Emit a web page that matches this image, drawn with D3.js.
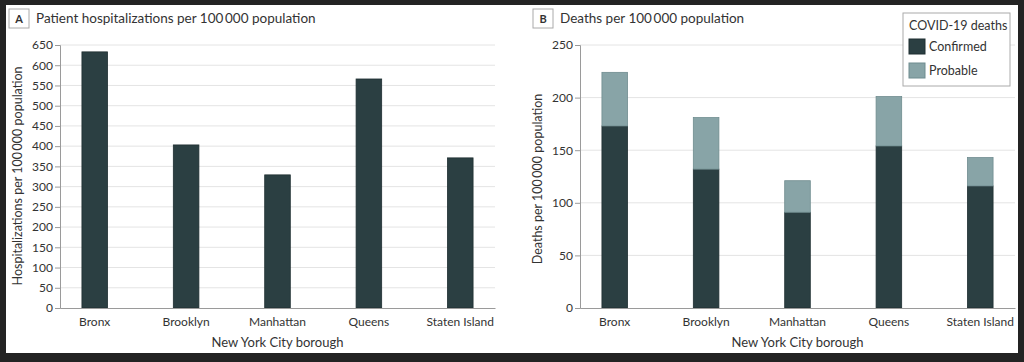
<!DOCTYPE html>
<html><head><meta charset="utf-8">
<script src="https://cdn.jsdelivr.net/npm/d3@7"></script>
<style>
html,body{margin:0;padding:0;background:#232323;}
svg{display:block;}
text{font-family:Lato,"Open Sans",sans-serif;fill:#333;}
</style></head><body>
<svg id="c" width="1024" height="362"></svg>
<script>
const boroughs = ["Bronx","Brooklyn","Manhattan","Queens","Staten Island"];
const hospitalizations = [633, 403, 329, 566, 371];
const confirmedDeaths = [173, 132, 91, 154, 116];
const probableDeaths = [51, 49, 30, 47, 27];
const hospTicks = [0,50,100,150,200,250,300,350,400,450,500,550,600,650];
const deathTicks = [0,50,100,150,200,250];
const seriesNames = ["Confirmed","Probable"];

const DARK = "#2b3f42", LIGHT = "#88a4a7";
const svg = d3.select("#c");
svg.append("rect").attr("x",6).attr("y",5).attr("width",1012).attr("height",348).attr("fill","#fff");

function panel(opts){
  const g = svg.append("g");
  const x = d3.scaleBand().domain(boroughs).range(opts.xr).paddingInner(0.72).paddingOuter(0.24);
  const y = d3.scaleLinear().domain([0, opts.max]).range([308, 45]);
  // grid
  g.selectAll(".grid").data(opts.ticks.filter(t=>t>0)).join("line")
    .attr("x1", opts.xr[0]).attr("x2", opts.xr[1])
    .attr("y1", d=>y(d)).attr("y2", d=>y(d))
    .attr("stroke","#e4e4e4").attr("stroke-width",1);
  // y axis
  const ya = g.append("g").attr("transform",`translate(${opts.xr[0]},0)`)
    .call(d3.axisLeft(y).tickValues(opts.ticks).tickSize(5).tickPadding(2));
  ya.select(".domain").attr("stroke","#9a9a9a");
  ya.selectAll(".tick line").attr("stroke","#9a9a9a");
  ya.selectAll("text").style("font-size","12px").attr("fill","#333");
  // bars
  opts.draw(g, x, y);
  // x axis
  const xa = g.append("g").attr("transform","translate(0,308)")
    .call(d3.axisBottom(x).tickSize(0).tickPadding(9));
  xa.select(".domain").attr("stroke","#9a9a9a").attr("stroke-width",1.2);
  xa.selectAll("text").style("font-size","12px").attr("fill","#333");
  // axis titles
  g.append("text").attr("x",(opts.xr[0]+opts.xr[1])/2).attr("y",347)
    .attr("text-anchor","middle").style("font-size","13px").text("New York City borough");
  g.append("text").attr("transform",`translate(${opts.ytx},${opts.yty}) rotate(-90)`)
    .attr("text-anchor","middle").style("font-size","12.5px").text(opts.ytitle);
  // panel letter + title
  g.append("rect").attr("x",opts.bx).attr("y",9).attr("width",20).attr("height",19)
    .attr("fill","#fff").attr("stroke","#aaa");
  g.append("text").attr("x",opts.bx+10).attr("y",23).attr("text-anchor","middle")
    .style("font-size","11px").style("font-weight","bold").text(opts.letter);
  g.append("text").attr("x",opts.bx+27).attr("y",23).style("font-size","13.5px").text(opts.title);
  return {g,x,y};
}

panel({xr:[60,495], max:650, ticks:hospTicks, ytx:22, yty:176, bx:9, letter:"A",
  ytitle:"Hospitalizations per 100\u2009000 population",
  title:"Patient hospitalizations per 100\u2009000 population",
  draw:(g,x,y)=>{
    g.selectAll(".bar").data(boroughs).join("rect")
      .attr("x",d=>x(d)).attr("width",x.bandwidth())
      .attr("y",(d,i)=>y(hospitalizations[i])).attr("height",(d,i)=>y(0)-y(hospitalizations[i]))
      .attr("fill",DARK).attr("stroke","#1f2f31").attr("stroke-width",0.8);
  }});

const stackData = boroughs.map((b,i)=>({borough:b, Confirmed:confirmedDeaths[i], Probable:probableDeaths[i]}));
const stacked = d3.stack().keys(seriesNames)(stackData);
const colors = {Confirmed:DARK, Probable:LIGHT};
const strokes = {Confirmed:"#1f2f31", Probable:"#6f8c8f"};

const B = panel({xr:[580,1015], max:250, ticks:deathTicks, ytx:542, yty:179, bx:533, letter:"B",
  ytitle:"Deaths per 100\u2009000 population",
  title:"Deaths per 100\u2009000 population",
  draw:(g,x,y)=>{
    g.selectAll(".layer").data(stacked).join("g")
      .attr("fill",d=>colors[d.key]).attr("stroke",d=>strokes[d.key]).attr("stroke-width",0.8)
      .selectAll("rect").data(d=>d).join("rect")
      .attr("x",d=>x(d.data.borough)).attr("width",x.bandwidth())
      .attr("y",d=>y(d[1])).attr("height",d=>y(d[0])-y(d[1]));
  }});

// legend
const lg = svg.append("g");
lg.append("rect").attr("x",903).attr("y",13).attr("width",107).attr("height",73)
  .attr("fill","#fff").attr("stroke","#aaa");
lg.append("text").attr("x",909).attr("y",30).style("font-size","12.5px").text("COVID-19 deaths");
seriesNames.forEach((s,i)=>{
  lg.append("rect").attr("x",909).attr("y",39+i*24).attr("width",16).attr("height",15)
    .attr("fill",colors[s]).attr("stroke",strokes[s]);
  lg.append("text").attr("x",929).attr("y",51+i*24).style("font-size","12.5px").text(s);
});
</script></body></html>
